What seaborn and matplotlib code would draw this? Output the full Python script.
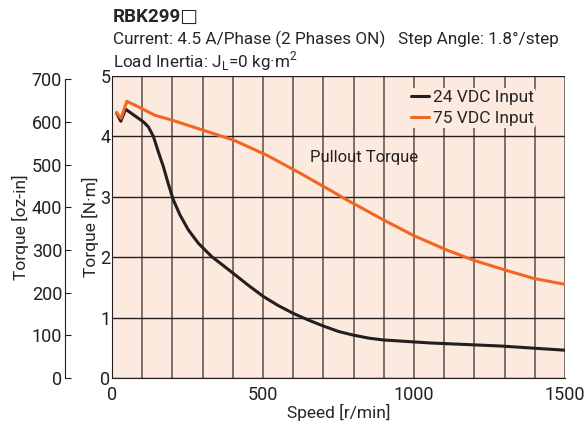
import numpy as np
import pandas as pd
import seaborn as sns
import matplotlib.pyplot as plt
from matplotlib.lines import Line2D

# Pullout torque curves
speed_24 = [15, 29, 45, 104, 120, 137, 153, 170, 186, 203, 225, 253, 286, 330, 374,
            402, 450, 501, 550, 600, 650, 700, 750, 799, 850, 898, 1053, 1285, 1500]
torque_24 = [4.39, 4.25, 4.45, 4.24, 4.16, 4.00, 3.75, 3.50, 3.22, 2.95, 2.70, 2.45, 2.23, 2.01, 1.84,
             1.73, 1.54, 1.35, 1.20, 1.07, 0.96, 0.86, 0.77, 0.71, 0.66, 0.63, 0.58, 0.53, 0.46]

speed_75 = [15, 30, 49, 87, 142, 198, 297, 402, 512, 623, 722, 777, 898, 998, 1053, 1108, 1197, 1300, 1395, 1500]
torque_75 = [4.39, 4.30, 4.58, 4.49, 4.35, 4.27, 4.11, 3.94, 3.69, 3.39, 3.11, 2.95, 2.62, 2.36, 2.24, 2.12,
             1.95, 1.79, 1.65, 1.55]

series_names = ["24 VDC Input", "75 VDC Input"]
x_ticks = [0, 500, 1000, 1500]
nm_ticks = [0, 1, 2, 3, 4, 5]
ozin_ticks = [0, 100, 200, 300, 400, 500, 600, 700]
NM_TO_OZIN = 141.612

df = pd.concat([
    pd.DataFrame({"speed": speed_24, "torque": torque_24, "input": series_names[0]}),
    pd.DataFrame({"speed": speed_75, "torque": torque_75, "input": series_names[1]}),
])

sns.set_style("white")
plt.rcParams["font.family"] = ["Roboto", "DejaVu Sans"]

fig = plt.figure(figsize=(5.84, 4.24), dpi=100)
ax = fig.add_axes([0.1918, 0.1085, 0.7757, 0.7123])
ax.set_facecolor("#fdeadf")

colors = {series_names[0]: "#231f20", series_names[1]: "#f26522"}
sns.lineplot(data=df, x="speed", y="torque", hue="input", palette=colors,
             linewidth=2.2, ax=ax, legend=False, zorder=3, estimator=None, sort=False)
for ln in ax.lines:
    ln.set_solid_joinstyle("round")

ax.set_xlim(0, 1500)
ax.set_ylim(0, 5)
ax.set_xticks(x_ticks)
ax.set_yticks(nm_ticks)
ax.set_xticks(np.arange(0, 1501, 100), minor=True)
ax.grid(True, which="both", axis="x", color="#5a4d48", linewidth=1.1, zorder=1)
ax.grid(True, which="major", axis="y", color="#231f20", linewidth=1.0, zorder=1)
ax.tick_params(axis="y", which="both", length=0, labelsize=13, colors="#231f20", pad=1)
ax.tick_params(axis="x", which="both", length=0, labelsize=13, colors="#231f20", pad=6)
for s in ["top", "right"]:
    ax.spines[s].set_visible(False)
for s in ["left", "bottom"]:
    ax.spines[s].set_color("#231f20")
ax.set_xlabel("Speed [r/min]", fontsize=12.5, labelpad=0)
ax.set_ylabel("Torque [N·m]", fontsize=12.5, labelpad=1)

# secondary oz-in axis on the far left
ax2 = ax.twinx()
ax2.set_ylim(0, 5 * NM_TO_OZIN)
ax2.set_yticks(ozin_ticks)
ax2.yaxis.set_ticks_position("left")
ax2.yaxis.set_label_position("left")
ax2.spines["left"].set_position(("axes", -0.104))
ax2.spines["left"].set_bounds(0, 700)
ax2.spines["left"].set_color("#231f20")
for s in ["top", "right", "bottom"]:
    ax2.spines[s].set_visible(False)
ax2.tick_params(axis="y", direction="in", length=4, labelsize=13, colors="#231f20", pad=2)
ax2.set_ylabel("Torque [oz-in]", fontsize=12.5, labelpad=2)

ax.text(656, 3.58, "Pullout Torque", fontsize=12, color="#231f20", zorder=4)

handles = [Line2D([], [], color=colors[n], linewidth=2.2) for n in series_names]
leg = ax.legend(handles, series_names, loc="upper right", bbox_to_anchor=(0.935, 0.96),
                frameon=True, fontsize=12.5, handlelength=1.0, handletextpad=0.25,
                borderaxespad=0, labelspacing=0.35, borderpad=0.1)
leg.get_frame().set_facecolor("#fdeadf")
leg.get_frame().set_edgecolor("none")
leg.get_frame().set_alpha(1)

fig.text(113 / 584, 1 - 17 / 424, "RBK299□", fontsize=13.5, fontweight="bold", va="center",
         family=["Roboto", "DejaVu Sans"])
fig.text(113 / 584, 1 - 39 / 424, "Current: 4.5 A/Phase (2 Phases ON)   Step Angle: 1.8°/step",
         fontsize=12.3, va="center")
fig.text(113 / 584, 1 - 61 / 424, "Load Inertia: J$_\\mathregular{L}$=0 kg·m$^\\mathregular{2}$",
         fontsize=12.3, va="center")

fig.savefig("out.png", dpi=100, facecolor="white")
